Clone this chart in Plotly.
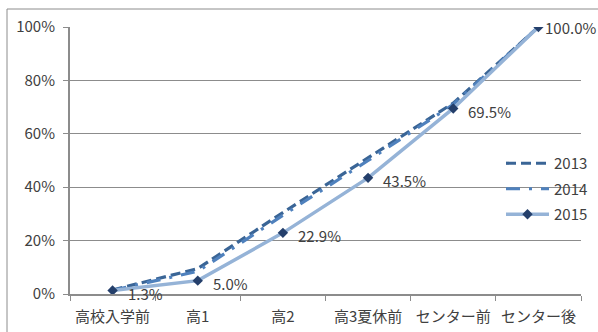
import plotly.graph_objects as go

# Cumulative share by stage (percent)
stages = ["高校入学前", "高1", "高2", "高3夏休前", "センター前", "センター後"]
rate_2013 = [1.5, 9.5, 30.5, 51.0, 71.5, 100.0]
rate_2014 = [1.4, 8.5, 29.5, 50.0, 71.0, 100.0]
rate_2015 = [1.3, 5.0, 22.9, 43.5, 69.5, 100.0]
years = ["2013", "2014", "2015"]

FONT = "Noto Sans CJK JP, Liberation Sans, sans-serif"
GRID = "#8c8c8c"
TXT = "#404040"

fig = go.Figure()

fig.add_trace(go.Scatter(
    x=stages, y=[v / 100 for v in rate_2013], name=years[0], mode="lines",
    legendgroup=years[0],
    line=dict(color="#3a6596", width=3.2, dash="10px,5px"),
))
fig.add_trace(go.Scatter(
    x=stages, y=[v / 100 for v in rate_2014], name=years[1], mode="lines",
    legendgroup=years[1],
    line=dict(color="#4f81bd", width=3.2, dash="14px,9px,3px,9px"),
))
fig.add_trace(go.Scatter(
    x=stages, y=[v / 100 for v in rate_2015], name=years[2], mode="lines+markers",
    legendgroup=years[2],
    line=dict(color="#95b3d7", width=3.5),
    marker=dict(symbol="diamond", size=8, color="#243f6b"),
))

# Value labels for the 2015 series, placed to the right of each marker
for i, (cat, v) in enumerate(zip(stages, rate_2015)):
    last = i == len(stages) - 1
    fig.add_annotation(
        x=cat, y=v / 100, text=f"{v:.1f}%", showarrow=False,
        xanchor="left", yanchor="middle",
        xshift=5 if last else 13, yshift=0 if last else -3,
        font=dict(family=FONT, size=15, color=TXT),
    )

# Outer chart border
L, T, W, H = 70, 27, 511, 267
def px(xp):
    return (xp - L) / W
def py(yp):
    return (T + H - yp) / H

fig.add_shape(type="rect", xref="paper", yref="paper",
              x0=px(7), y0=py(345), x1=px(610), y1=py(9),
              line=dict(color="#8c8c8c", width=1), fillcolor="rgba(0,0,0,0)",
              layer="below")

fig.update_layout(
    width=598, height=332,
    margin=dict(l=L, r=598 - L - W, t=T, b=332 - T - H, autoexpand=False),
    paper_bgcolor="white", plot_bgcolor="white",
    font=dict(family=FONT, size=14, color=TXT),
    showlegend=True,
    legend=dict(
        x=px(501), y=py(147), xanchor="left", yanchor="top",
        bgcolor="rgba(0,0,0,0)", itemwidth=43,
        font=dict(family=FONT, size=15, color=TXT),
        tracegroupgap=3, traceorder="grouped",
    ),
)

fig.update_xaxes(
    type="category", range=[-0.5, 5.5], automargin=False,
    showline=True, linecolor=GRID, linewidth=1.5,
    ticks="outside", tickson="boundaries", ticklen=5, tickcolor=GRID,
    ticklabelstandoff=8, tickangle=0,
    showgrid=False, tickfont=dict(family=FONT, size=15, color=TXT),
)
fig.update_yaxes(
    range=[0, 1], dtick=0.2, tickformat=".0%", automargin=False,
    showline=True, linecolor=GRID, linewidth=2,
    ticks="outside", ticklen=5, tickcolor=GRID,
    ticklabelstandoff=5,
    showgrid=True, gridcolor=GRID, gridwidth=1,
    zeroline=False, tickfont=dict(family=FONT, size=15, color=TXT),
)

fig.write_html("out.html")
